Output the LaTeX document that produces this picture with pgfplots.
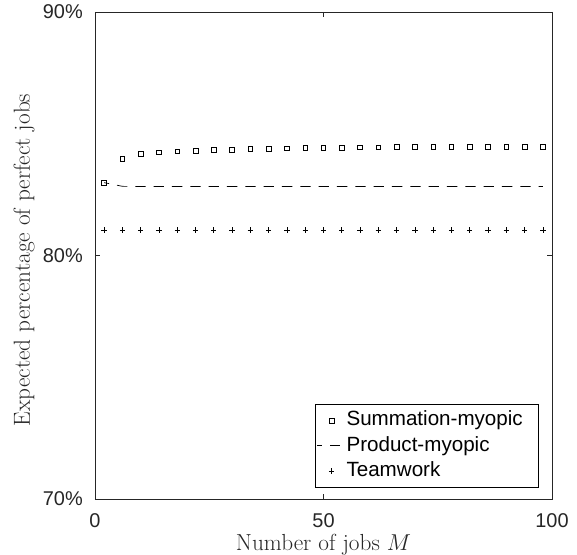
\documentclass[border=0pt]{standalone}
\usepackage{pgfplots}
\pgfplotsset{compat=1.18}
\usepackage{fontspec}
\newfontfamily\hel{Liberation Sans}
\begin{document}
\begin{tikzpicture}
\begin{axis}[
  scale only axis,
  width=344pt, height=366.6pt,
  xmin=0, xmax=100, ymin=70, ymax=90,
  xtick={0,50,100}, xticklabels={0,50,100},
  ytick={70,80,90}, yticklabels={70\%,80\%,90\%},
  tick align=inside,
  major tick length=3.5pt,
  every tick/.style={black!85, line width=0.5pt},
  ticklabel style={font=\hel\fontsize{15}{17}\selectfont, text=black!85},
  xticklabel style={anchor=base, inner sep=0pt, yshift=-21.1pt},
  yticklabel style={anchor=east, inner sep=0pt, xshift=-9pt},
  xlabel={Number of jobs $M$},
  ylabel={Expected percentage of perfect jobs},
  label style={font=\fontsize{17.5}{20}\selectfont, text=black!85},
  xlabel style={at={(axis description cs:0.5,-0.1047)}, anchor=base, inner sep=0pt},
  ylabel style={at={(axis description cs:-0.1313,0.491)}, anchor=south, inner sep=0pt},
  axis line style={line width=0.5pt, black!85},
  legend image code/.code={\draw[mark repeat=2,mark phase=2,#1] plot coordinates {(0pt,0pt) (11pt,0pt) (22pt,0pt)};},
  legend style={at={(axis description cs:0.9716,0.0226)}, anchor=south east,
    font=\hel\fontsize{15.5}{18}\selectfont, draw=black, line width=0.5pt,
    inner xsep=1pt, inner ysep=5pt, row sep=4pt,
    nodes={inner sep=0pt, text height=11.5pt, text depth=3.5pt},
    /tikz/every even column/.append style={column sep=12.8pt}},
  legend cell align=left,
]
\addplot[only marks, mark=square, mark size=1.75pt, mark options={line width=0.5pt}] coordinates {
(2,82.99)(6,83.96)(10,84.17)(14,84.24)(18,84.27)(22,84.30)(26,84.33)(30,84.35)(34,84.37)(38,84.39)(42,84.40)(46,84.41)(50,84.42)(54,84.43)(58,84.44)(62,84.44)(66,84.45)(70,84.45)(74,84.46)(78,84.46)(82,84.46)(86,84.47)(90,84.47)(94,84.47)(98,84.47)};
\addlegendentry{Summation-myopic\hspace{11pt}\mbox{}}
\addplot[no marks, line width=0.5pt, dash pattern=on 7.8pt off 6pt, dash phase=3.9pt] coordinates {
(2,82.99)(6,82.84)(10,82.83)(14,82.83)(18,82.83)(22,82.83)(26,82.83)(30,82.83)(34,82.83)(38,82.83)(42,82.83)(46,82.83)(50,82.83)(54,82.83)(58,82.83)(62,82.83)(66,82.83)(70,82.83)(74,82.83)(78,82.83)(82,82.83)(86,82.83)(90,82.83)(94,82.83)(98,82.83)};
\addlegendentry{Product-myopic}
\addplot[only marks, mark=+, mark size=2pt, mark options={line width=0.5pt}] coordinates {
(2,81.05)(6,81.05)(10,81.05)(14,81.05)(18,81.05)(22,81.05)(26,81.05)(30,81.05)(34,81.05)(38,81.05)(42,81.05)(46,81.05)(50,81.05)(54,81.05)(58,81.05)(62,81.05)(66,81.05)(70,81.05)(74,81.05)(78,81.05)(82,81.05)(86,81.05)(90,81.05)(94,81.05)(98,81.05)};
\addlegendentry{Teamwork}
\end{axis}
\pgfresetboundingbox
\path ([xshift=-71.5pt,yshift=-41.4pt]current axis.south west) rectangle ([xshift=18.8pt,yshift=9pt]current axis.north east);
\end{tikzpicture}
\end{document}
